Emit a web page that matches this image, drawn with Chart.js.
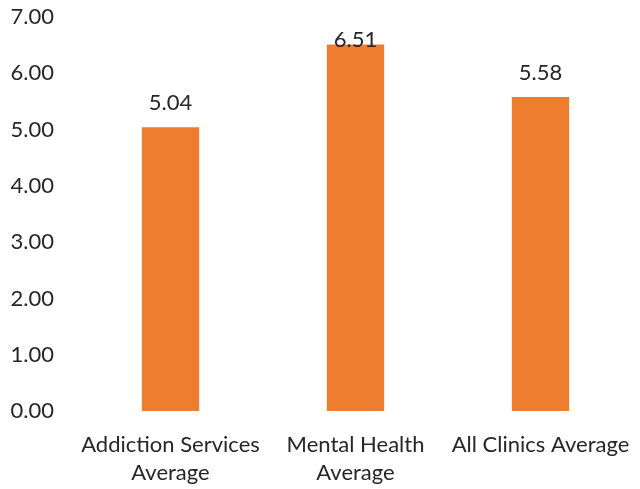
<!DOCTYPE html>
<html lang="en">
<head>
  <meta charset="UTF-8">
  <title>Clinic Averages</title>
  <script src="https://cdn.jsdelivr.net/npm/chart.js"></script>
  <style>
    body {
      margin: 0;
      background-color: #ffffff;
    }
    #wrap {
      width: 640px;
      height: 489px;
    }
  </style>
</head>
<body>

  <div id="wrap">
    <canvas id="avgChart" width="640" height="489"></canvas>
  </div>

  <script>
    // data
    const categories = [
      ['Addiction Services', 'Average'],
      ['Mental Health', 'Average'],
      'All Clinics Average'
    ];
    const averages = [5.04, 6.51, 5.58];
    const yTicks = [0, 1, 2, 3, 4, 5, 6, 7];

    const fontFamily = 'Lato, "Noto Sans", sans-serif';

    // value labels above the bars
    const valueLabels = {
      id: 'valueLabels',
      afterDatasetsDraw(chart) {
        const ctx = chart.ctx;
        const meta = chart.getDatasetMeta(0);
        ctx.save();
        ctx.font = '22px ' + fontFamily;
        ctx.fillStyle = '#262626';
        ctx.textAlign = 'center';
        ctx.textBaseline = 'middle';
        meta.data.forEach((bar, i) => {
          const y = Math.max(bar.y - 24, chart.chartArea.top + 23);
          ctx.fillText(averages[i].toFixed(2), bar.x, y);
        });
        ctx.restore();
      }
    };

    const ctx = document.getElementById('avgChart').getContext('2d');
    const avgChart = new Chart(ctx, {
      type: 'bar',
      data: {
        labels: categories,
        datasets: [{
          data: averages,
          backgroundColor: '#ee7d2f',
          borderWidth: 0,
          barPercentage: 0.62,
          categoryPercentage: 0.5
        }]
      },
      options: {
        responsive: false,
        animation: false,
        layout: {
          padding: { top: 17, right: 7, left: 0, bottom: 2 }
        },
        plugins: {
          legend: { display: false },
          tooltip: { enabled: false }
        },
        scales: {
          x: {
            grid: { display: false, drawTicks: true, tickLength: 20 },
            border: { display: false },
            ticks: {
              color: '#262626',
              font: { family: fontFamily, size: 22, lineHeight: 1.27 },
              maxRotation: 0,
              autoSkip: false,
              padding: 0
            }
          },
          y: {
            min: yTicks[0],
            max: yTicks[yTicks.length - 1],
            grid: { display: false, drawTicks: true, tickLength: 24 },
            border: { display: false },
            afterBuildTicks(axis) {
              axis.ticks = yTicks.map(v => ({ value: v }));
            },
            afterFit(axis) {
              axis.width = 78;
            },
            ticks: {
              color: '#262626',
              font: { family: fontFamily, size: 22, lineHeight: 1 },
              padding: 0,
              callback: v => Number(v).toFixed(2)
            }
          }
        }
      },
      plugins: [valueLabels]
    });
  </script>
</body>
</html>
